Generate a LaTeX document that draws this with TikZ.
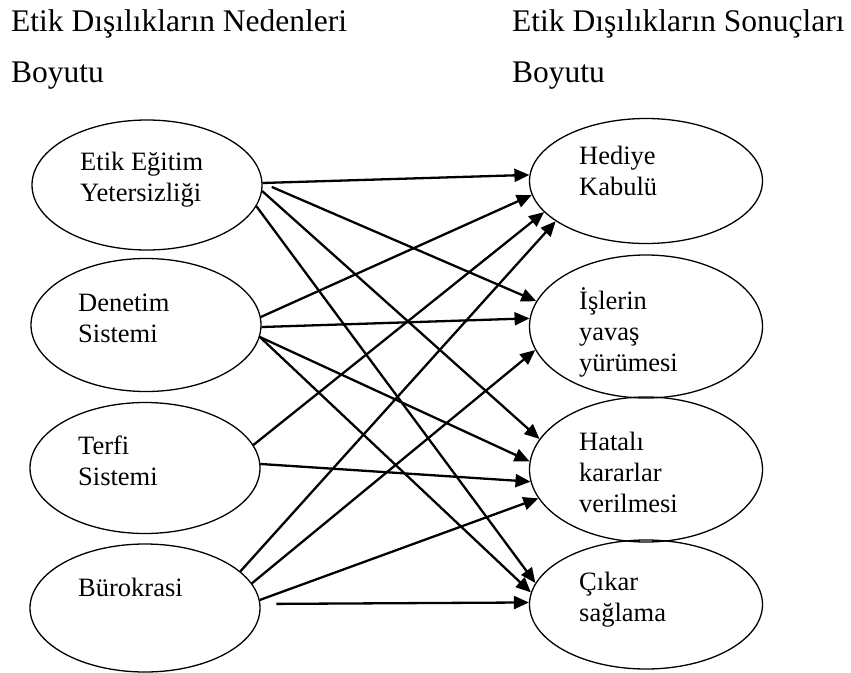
\documentclass[tikz,border=0pt]{standalone}
\usepackage{fontspec}
\setmainfont{Liberation Serif}
\usetikzlibrary{arrows.meta, shapes.geometric}
\tikzset{->,>={Triangle[length=15pt,width=13pt]},
    oval/.style={ellipse,draw,line width=1.3pt,inner sep=0pt,minimum width=230pt},
    etiket/.style={anchor=base west,align=left,inner sep=0pt,
        font=\fontsize{26.5}{31}\selectfont},
    baslik/.style={anchor=base west,align=left,inner sep=0pt,
        font=\fontsize{31.5}{51}\selectfont},
    ok/.style={line width=2.3pt}}

\begin{document}
\begin{tikzpicture}
[x=1pt,y=-1pt]
\useasboundingbox (0,0) rectangle (851,672);
% basliklar (base = son satir)
\node[baslik] (bas1) at (11,82)  {Etik Dışılıkların Nedenleri\\Boyutu};
\node[baslik] (bas2) at (512,82) {Etik Dışılıkların Sonuçları\\Boyutu};
% nedenler
\node[oval,minimum height=130pt] (neden1) at (147,185) {};
\node[oval,minimum height=133pt] (neden2) at (146,325) {};
\node[oval,minimum height=131pt] (neden3) at (145,468) {};
\node[oval,minimum height=128pt] (neden4) at (145,608) {};
\node[etiket] (tneden1) at (80,201) {Etik Eğitim\\Yetersizliği};
\node[etiket] (tneden2) at (78,342) {Denetim\\Sistemi};
\node[etiket] (tneden3) at (78,485) {Terfi\\Sistemi};
\node[etiket] (tneden4) at (78,596) {Bürokrasi};
% sonuclar
\node[oval,minimum width=233pt,minimum height=125pt] (sonuc1) at (646,181) {};
\node[oval,minimum width=233pt,minimum height=143pt] (sonuc2) at (646,326.5) {};
\node[oval,minimum width=233pt,minimum height=145pt] (sonuc3) at (646,469.5) {};
\node[oval,minimum width=233pt,minimum height=129pt] (sonuc4) at (646,604.5) {};
\node[etiket] (tsonuc1) at (579,195) {Hediye\\Kabulü};
\node[etiket] (tsonuc2) at (579,371) {İşlerin\\yavaş\\yürümesi};
\node[etiket] (tsonuc3) at (579,512) {Hatalı\\kararlar\\verilmesi};
\node[etiket] (tsonuc4) at (579,621) {Çıkar\\sağlama};
% oklar
\path[ok]
    (neden1.1)     edge []                   (sonuc1.177)
    (neden1.1.4)   edge [shorten <=10pt]     (sonuc2.167.9)
    (neden1.357.6) edge []                   (sonuc3.164)
    (neden1.349.5) edge []                   (sonuc4.169.3)
    (neden2.4.3)   edge []                   (sonuc1.187.7)
    (neden2.359)   edge []                   (sonuc2.176.9)
    (neden2.354)   edge []                   (sonuc3.176.4)
    (neden2.354)   edge []                   (sonuc4.174.6)
    (neden3.12.7)  edge []                   (sonuc1.197.6)
    (neden3.2.8)   edge []                   (sonuc3.186)
    (neden4.21.3)  edge []                   (sonuc1.204)
    (neden4.13.5)  edge []                   (sonuc2.192.1)
    (neden4.4.9)   edge []                   (sonuc3.195.3)
    (neden4.2.2)   edge [shorten <=16pt]     (sonuc4.179.3);
\end{tikzpicture}
\end{document}
